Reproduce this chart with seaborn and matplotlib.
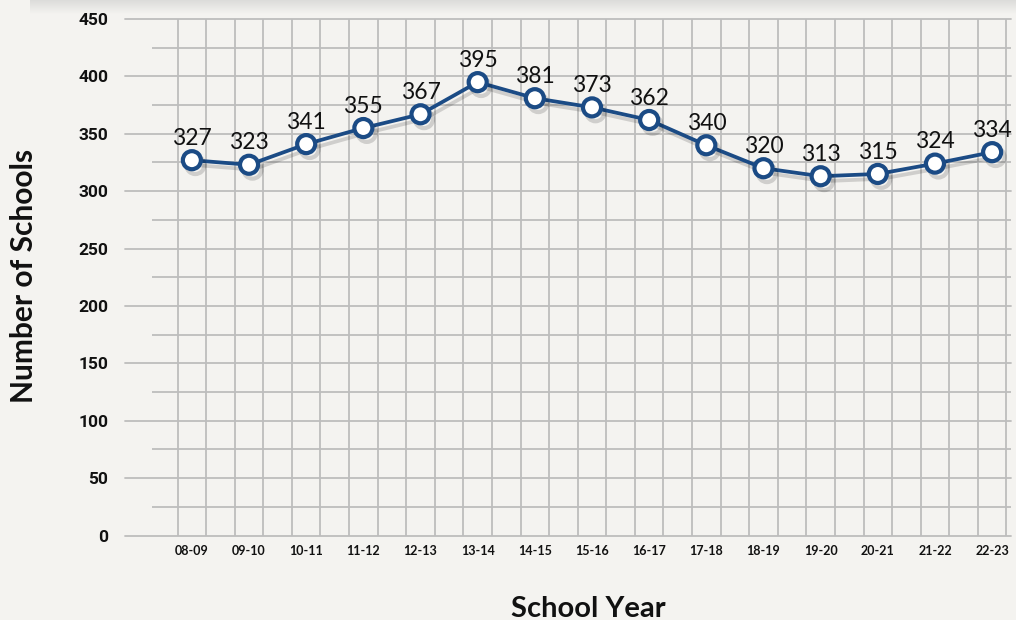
import numpy as np
import pandas as pd
import matplotlib
matplotlib.use("Agg")
import matplotlib.pyplot as plt
import matplotlib.patheffects as pe
from matplotlib.colors import LinearSegmentedColormap
import seaborn as sns

years = ["08-09", "09-10", "10-11", "11-12", "12-13", "13-14", "14-15", "15-16",
         "16-17", "17-18", "18-19", "19-20", "20-21", "21-22", "22-23"]
schools = [327, 323, 341, 355, 367, 395, 381, 373, 362, 340, 320, 313, 315, 324, 334]
y_ticks = [0, 50, 100, 150, 200, 250, 300, 350, 400, 450]

BG = "#f4f3f0"
GRID = "#bdbdbd"
BLUE = "#1b4b85"

sns.set_theme(style="white")
plt.rcParams["font.family"] = ["Lato", "DejaVu Sans"]

W, H = 1016, 620
fig = plt.figure(figsize=(W / 100, H / 100), dpi=100, facecolor=BG)

# top card shadow
sh = fig.add_axes([30 / W, 1 - 14 / H, 1 - 30 / W, 14 / H])
grad = np.linspace(0, 1, 50).reshape(-1, 1)
cmap = LinearSegmentedColormap.from_list("sh", ["#dcdcda", BG])
sh.imshow(grad, aspect="auto", cmap=cmap, extent=[0, 1, 1, 0])
sh.axis("off")

ax = fig.add_axes([125 / W, 1 - 535.5 / H, (1011 - 125) / W, (535.5 - 19) / H])
ax.set_facecolor(BG)

n = len(years)
df = pd.DataFrame({"idx": np.arange(n), "schools": schools})

xl, xr = -1.17, 14.33

sns.lineplot(data=df, x="idx", y="schools", ax=ax, color=BLUE, lw=2.7,
             marker="o", markersize=13, markerfacecolor="white",
             markeredgecolor=BLUE, markeredgewidth=3.0, zorder=5,
             path_effects=[pe.SimpleLineShadow(offset=(2.5, -3.5), shadow_color="black", alpha=0.15),
                           pe.Normal()])

ax.set_xlim(xl, xr)
ax.set_ylim(0, 450)

# grid: major horizontal
for v in y_ticks:
    ax.axhline(v, color=GRID, lw=1.3, zorder=1, clip_on=False)
# minor horizontal
ax.hlines([v + 25 for v in y_ticks[:-1]], -0.70, xr, color=GRID, lw=1.3, zorder=1)
# vertical grid via minor ticks
minor_x = sorted([i - 0.25 for i in range(n)] + [i + 0.25 for i in range(n)])
ax.set_xticks(minor_x, minor=True)
ax.xaxis.grid(True, which="minor", color=GRID, lw=1.3, zorder=1)
ax.set_axisbelow(True)
ax.tick_params(axis="x", which="minor", length=3.5, width=1.3, color=GRID, direction="out")

ax.set_xticks(np.arange(n))
ax.set_xticklabels(years, fontsize=9, fontweight="bold", color="#111111")
ax.tick_params(axis="x", which="major", length=0, pad=7)
ax.set_yticks(y_ticks)
ax.set_yticklabels([str(v) for v in y_ticks], fontsize=12.5, fontweight="bold",
                   color="#111111", family=["Roboto", "DejaVu Sans"])
ax.tick_params(axis="y", length=0, pad=12)
for s in ax.spines.values():
    s.set_visible(False)
ax.set_xlabel("")
ax.set_ylabel("")

for i, v in enumerate(schools):
    ax.annotate(str(v), (i, v), xytext=(0, 11), textcoords="offset points",
                ha="center", va="baseline", fontsize=16.5, color="#111111", zorder=6)

fig.text(588 / W, 1 - 617 / H, "School Year", ha="center", va="baseline",
         fontsize=21, fontweight="bold", color="#111111")
fig.text(24 / W, 1 - 276 / H, "Number of Schools", ha="center", va="center",
         rotation=90, fontsize=21.5, fontweight="bold", color="#111111")

fig.savefig("out.png", dpi=100, facecolor=BG)
